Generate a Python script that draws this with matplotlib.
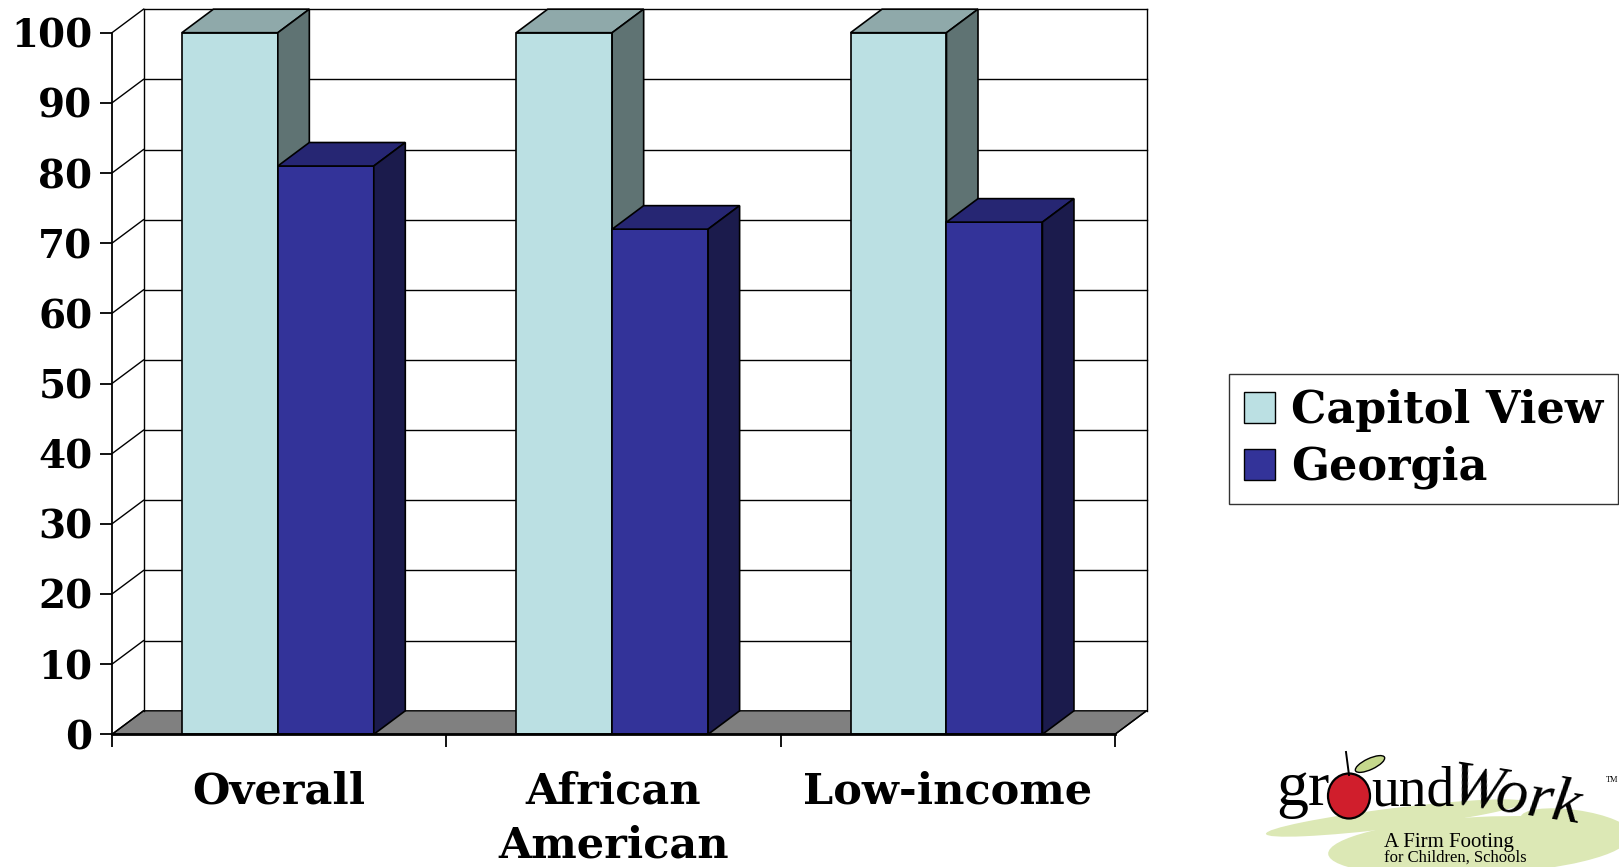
import matplotlib
matplotlib.use("Agg")
import matplotlib.pyplot as plt
from matplotlib.patches import Polygon, Patch, Ellipse
from matplotlib.transforms import Affine2D

# ---- data ----
categories = ["Overall", "African\nAmerican", "Low-income"]
series_names = ["Capitol View", "Georgia"]
capitol_view = [100, 100, 100]
georgia = [81, 72, 73]
y_ticks = [0, 10, 20, 30, 40, 50, 60, 70, 80, 90, 100]

# ---- styling ----
FRONT = ["#BBE0E3", "#333399"]
TOP = ["#8FA9AA", "#262673"]
SIDE = ["#5F7373", "#1B1B4C"]
FLOOR = "#808080"
SERIF = ["DejaVu Serif"]

W, H, DPI = 1619, 867, 100
fig = plt.figure(figsize=(W / DPI, H / DPI), dpi=DPI)
fig.patch.set_facecolor("white")

# plot frame in pixels (front plane) and 3-D depth offset
x0_px, x1_px = 112, 1115          # front left / right of the category axis
y0_px, y100_px = 734.3, 32.7      # value 0 and value 100 (from top)
depth_dx_px, depth_dy_px = 31.5, 23.5

ncat = len(categories)
ymax = 100
px_per_x = (x1_px - x0_px) / ncat
px_per_y = (y0_px - y100_px) / ymax
dx = depth_dx_px / px_per_x
dy = depth_dy_px / px_per_y

ax_left = x0_px / W
ax_bottom = (H - y0_px) / H
ax_w = (x1_px + depth_dx_px - x0_px) / W
ax_h = (y0_px - y100_px + depth_dy_px) / H
ax = fig.add_axes([ax_left, ax_bottom, ax_w, ax_h])
ax.set_xlim(0, ncat + dx)
ax.set_ylim(0, ymax + dy)
ax.set_facecolor("none")

lw_grid = 1.0
# floor
ax.add_patch(Polygon([(0, 0), (ncat, 0), (ncat + dx, dy), (dx, dy)], closed=True,
                     facecolor=FLOOR, edgecolor="black", lw=lw_grid, zorder=1, clip_on=False))
# back wall and side wall gridlines
for v in y_ticks:
    if v > 0:
        ax.plot([dx, ncat + dx], [v + dy, v + dy], color="black", lw=lw_grid, zorder=1, clip_on=False)
    ax.plot([0, dx], [v, v + dy], color="black", lw=lw_grid, zorder=1, clip_on=False)
ax.plot([dx, dx], [dy, ymax + dy], color="black", lw=lw_grid, zorder=1, clip_on=False)
ax.plot([ncat + dx, ncat + dx], [dy, ymax + dy], color="black", lw=lw_grid, zorder=1, clip_on=False)
ax.plot([ncat, ncat + dx], [0, dy], color="black", lw=lw_grid, zorder=1, clip_on=False)

# 3-D columns
bar_w = 0.287
group_off = 0.209
lw_bar = 1.2
for i in range(ncat):
    for j, vals in enumerate([capitol_view, georgia]):
        v = vals[i]
        xl = i + group_off + j * bar_w
        xr = xl + bar_w
        z = 3 + j
        ax.bar(xl, v, width=bar_w, align="edge", color=FRONT[j], edgecolor="black",
               lw=lw_bar, zorder=z, clip_on=False)
        ax.add_patch(Polygon([(xl, v), (xr, v), (xr + dx, v + dy), (xl + dx, v + dy)],
                             closed=True, facecolor=TOP[j], edgecolor="black", lw=lw_bar,
                             zorder=z, clip_on=False))
        ax.add_patch(Polygon([(xr, 0), (xr + dx, dy), (xr + dx, v + dy), (xr, v)],
                             closed=True, facecolor=SIDE[j], edgecolor="black", lw=lw_bar,
                             zorder=z, clip_on=False))

# axes lines and labels
for s in ["top", "right"]:
    ax.spines[s].set_visible(False)
ax.spines["left"].set_bounds(0, ymax)
ax.spines["bottom"].set_bounds(0, ncat)
ax.spines["left"].set_linewidth(1.3)
ax.spines["bottom"].set_linewidth(2.0)
ax.spines["left"].set_zorder(6)
ax.spines["bottom"].set_zorder(6)

ax.set_yticks(y_ticks)
ax.set_yticklabels([str(t) for t in y_ticks], fontsize=28, fontweight="bold", family=SERIF)
ax.tick_params(axis="y", direction="out", length=9, width=1.3, pad=5)

ax.set_xticks(range(ncat + 1))
ax.set_xticklabels([""] * (ncat + 1))
ax.tick_params(axis="x", which="major", direction="out", length=9, width=1.3)
ax.set_xticks([i + 0.5 for i in range(ncat)], minor=True)
ax.set_xticklabels(categories, minor=True, fontsize=31, fontweight="bold",
                   family=SERIF, linespacing=1.38)
ax.tick_params(axis="x", which="minor", length=0, pad=26)

# legend
handles = [Patch(facecolor=FRONT[k], edgecolor="black", lw=1.0) for k in range(2)]
leg = fig.legend(handles, series_names, loc="center left",
                 bbox_to_anchor=(1229 / W, (H - 439) / H),
                 prop={"family": SERIF, "weight": "bold", "size": 32},
                 frameon=True, fancybox=False, shadow=False,
                 handlelength=0.7, handleheight=0.7, handletextpad=0.35,
                 labelspacing=0.32, borderpad=0.34, borderaxespad=0)
leg.get_frame().set_edgecolor("black")
leg.get_frame().set_linewidth(1.0)

# groundWork logo, laid out in pixel coordinates measured from the top-left
pix = Affine2D().scale(1.0 / DPI).scale(1, -1).translate(0, H / DPI) + fig.dpi_scale_trans
GREEN = "#DCE8B5"
fig.patches.append(Ellipse((1478, 846), 300, 58, angle=-3, transform=pix,
                           facecolor=GREEN, edgecolor="none", zorder=0))
fig.patches.append(Ellipse((1395, 818), 260, 20, angle=-7, transform=pix,
                           facecolor=GREEN, edgecolor="none", zorder=0))
fig.patches.append(Ellipse((1575, 825), 110, 30, angle=8, transform=pix,
                           facecolor=GREEN, edgecolor="none", zorder=0))
# apple with stem and leaf
fig.lines.append(plt.Line2D([1349, 1346], [775, 752], transform=pix, color="black", lw=1.4))
fig.patches.append(Ellipse((1370, 764), 32, 11, angle=-25, transform=pix,
                           facecolor="#C5D88C", edgecolor="black", lw=1.0))
fig.patches.append(Ellipse((1349, 796), 42, 45, transform=pix,
                           facecolor="#D01E2C", edgecolor="black", lw=1.6))
logo_font = ["Liberation Serif"]
fig.text(1276, 805, "gr", transform=pix, fontsize=46, family=logo_font,
         va="baseline", ha="left")
fig.text(1371, 805, "und", transform=pix, fontsize=40, family=logo_font,
         va="baseline", ha="left")
fig.text(1448, 803, "Work", transform=pix, fontsize=46, family=logo_font, style="italic",
         va="baseline", ha="left", rotation=-9, rotation_mode="anchor")
fig.text(1606, 780, "TM", transform=pix, fontsize=6, family=logo_font,
         va="center", ha="left")
fig.text(1384, 847, "A Firm Footing", transform=pix, fontsize=15, family=logo_font,
         va="baseline", ha="left")
fig.text(1384, 866, "for Children, Schools", transform=pix, fontsize=12, family=logo_font,
         va="bottom", ha="left")

fig.savefig("out.png", dpi=DPI, facecolor="white")
